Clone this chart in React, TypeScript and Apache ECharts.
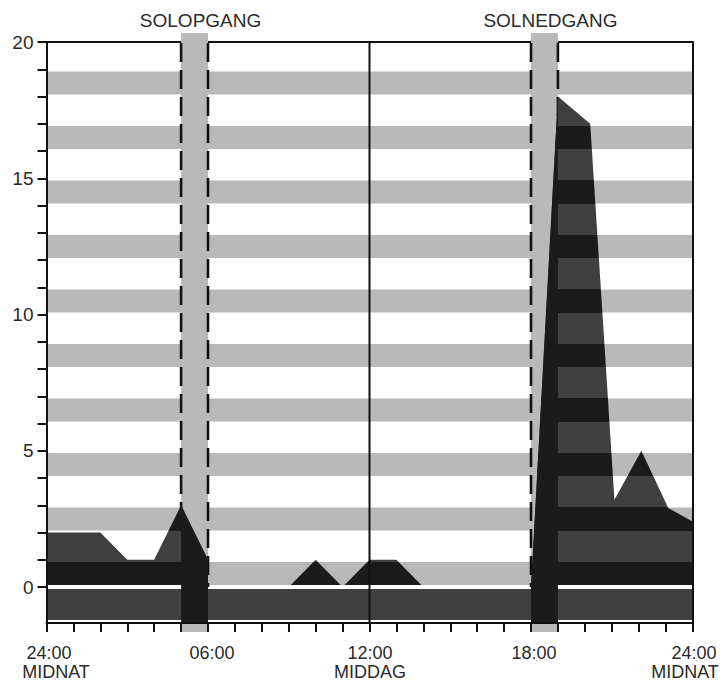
import React, { useEffect, useRef } from 'react';
import * as echarts from 'echarts';

// ---- data ----
const HOURS = [0, 2, 3, 4, 5, 6, 6, 9, 10, 11, 12, 13, 14, 18, 19, 20.2, 21.1, 22.1, 23.1, 24];
const VALUES = [2, 2, 1, 1, 3, 1, 0, 0, 1, 0, 1, 1, 0, 0, 18, 17, 3.2, 5, 2.9, 2.4];
const SUN_WINDOWS: number[][] = [[5, 6], [18, 19]];
const SUN_LABELS = ['SOLOPGANG', 'SOLNEDGANG'];
const NOON = 12;
const X_LABELS: Record<number, string> = {
  0: '24:00\nMIDNAT',
  6: '06:00',
  12: '12:00\nMIDDAG',
  18: '18:00',
  24: '24:00\nMIDNAT',
};
const Y_TICKS = [0, 1, 2, 3, 4, 5, 6, 7, 8, 9, 10, 11, 12, 13, 14, 15, 16, 17, 18, 19, 20];
const Y_LABELS = [0, 5, 10, 15, 20];
const BAND_LEVELS = [0, 2, 4, 6, 8, 10, 12, 14, 16, 18];

const Y_MIN = -1.32;
const Y_MAX = 20;
const X_MIN = 0;
const X_MAX = 24;

// ---- style ----
const GRAY = '#b9b9b9';
const DARK = '#404040';
const BLACK = '#1b1b1b';
const INK = '#111111';
const TEXT = '#2a2a2a';
const FONT = 'Liberation Sans, Arial, Helvetica, sans-serif';
const BAND_LO = 0.07;
const BAND_HI = 0.92;
const LABEL_SIZE = 18;
const LABEL_LH = 19;
// per-line horizontal nudges of the x labels (px, + = right)
const LABEL_SHIFT: Record<number, number[]> = {
  0: [2.5, 9.5],
  6: [4],
  12: [0.5, 0.5],
  18: [3],
  24: [1.5, -7.5],
};

function styleName(s: number) {
  const n = Math.round(Math.abs(s) * 2);
  return (s >= 0 ? 'L' : 'R') + n;
}

export default function App() {
  const ref = useRef<HTMLDivElement>(null);

  useEffect(() => {
    if (!ref.current) return;
    const chart = echarts.init(ref.current, null, { renderer: 'svg' });

    const rich: Record<string, any> = {};
    Object.values(LABEL_SHIFT).forEach((arr) =>
      arr.forEach((s) => {
        const n = Math.round(Math.abs(s) * 2);
        rich[styleName(s)] = {
          fontSize: LABEL_SIZE,
          fontFamily: FONT,
          color: TEXT,
          lineHeight: LABEL_LH,
          padding: s >= 0 ? [0, 0, 0, n] : [0, n, 0, 0],
        };
      })
    );
    if (!rich['L0']) {
      rich['L0'] = { fontSize: LABEL_SIZE, fontFamily: FONT, color: TEXT, lineHeight: LABEL_LH };
    }

    const xFormatter = (v: number) => {
      const txt = X_LABELS[v];
      if (txt === undefined) return '';
      const lines = txt.split('\n');
      const sh = LABEL_SHIFT[v] || [];
      return lines.map((ln, i) => `{${styleName(sh[i] || 0)}|${ln}}`).join('\n');
    };

    const mainData = HOURS.map((h, i) => [h, VALUES[i]]);
    const overlaySeries = SUN_WINDOWS.map((w, wi) => ({
      id: 'overlay' + wi,
      type: 'line',
      data: mainData.filter((p) => p[0] >= w[0] && p[0] <= w[1]),
      symbol: 'none',
      lineStyle: { width: 0, color: BLACK },
      areaStyle: { origin: 'start', color: BLACK, opacity: 1 },
      z: 5,
      silent: true,
    }));

    const plainAxis = (extra: any) => ({
      type: 'value',
      axisTick: { show: false },
      axisLabel: { show: false },
      splitLine: { show: false },
      ...extra,
    });

    const option: any = {
      animation: false,
      backgroundColor: '#ffffff',
      grid: {
        left: 46.5,
        top: 42,
        width: 646,
        height: 581,
        containLabel: false,
        outerBoundsMode: 'none',
      },
      xAxis: [
        {
          type: 'value',
          min: X_MIN,
          max: X_MAX,
          interval: 1,
          position: 'bottom',
          z: 10,
          axisLine: { show: true, onZero: false, lineStyle: { color: INK, width: 2 } },
          axisTick: { show: true, length: 9, lineStyle: { color: INK, width: 2 } },
          axisLabel: {
            show: true,
            margin: 20,
            color: TEXT,
            fontSize: LABEL_SIZE,
            fontFamily: FONT,
            lineHeight: LABEL_LH,
            formatter: xFormatter,
            rich,
          },
          splitLine: { show: false },
        },
        plainAxis({
          min: X_MIN,
          max: X_MAX,
          position: 'top',
          z: 1,
          axisLine: { show: true, onZero: false, lineStyle: { color: INK, width: 2 } },
        }),
      ],
      yAxis: [
        {
          type: 'value',
          min: Y_MIN,
          max: Y_MAX,
          position: 'left',
          z: 10,
          axisLine: { show: true, onZero: false, lineStyle: { color: INK, width: 2 } },
          axisTick: {
            show: true,
            length: 9,
            customValues: Y_TICKS,
            lineStyle: { color: INK, width: 2 },
          },
          axisLabel: {
            show: true,
            customValues: Y_LABELS,
            margin: 13,
            color: TEXT,
            fontSize: 19,
            fontFamily: FONT,
          },
          splitLine: { show: false },
        },
        plainAxis({
          min: Y_MIN,
          max: Y_MAX,
          position: 'right',
          z: 10,
          axisLine: { show: true, onZero: false, lineStyle: { color: INK, width: 2 } },
        }),
      ],
      series: [
        {
          id: 'bands',
          type: 'custom',
          z: 1,
          silent: true,
          data: BAND_LEVELS.map((k) => [k]),
          renderItem: (_p: any, api: any) => {
            const k = api.value(0);
            const a = api.coord([X_MIN, k + BAND_HI]);
            const b = api.coord([X_MAX, k + BAND_LO]);
            return {
              type: 'rect',
              shape: { x: a[0], y: a[1], width: b[0] - a[0], height: b[1] - a[1] },
              style: { fill: GRAY },
            };
          },
        },
        {
          id: 'columns',
          type: 'custom',
          z: 3,
          silent: true,
          data: SUN_WINDOWS,
          renderItem: (p: any, api: any) => {
            const a = api.coord([api.value(0), Y_MAX]);
            const b = api.coord([api.value(1), Y_MIN]);
            return {
              type: 'group',
              children: [
                {
                  type: 'rect',
                  shape: { x: a[0], y: a[1] - 9, width: b[0] - a[0], height: b[1] - a[1] + 18 },
                  style: { fill: GRAY },
                },
                {
                  type: 'text',
                  x: (a[0] + b[0]) / 2 + 6,
                  y: a[1] - 22,
                  style: {
                    text: SUN_LABELS[p.dataIndex],
                    fill: TEXT,
                    fontSize: 19,
                    fontFamily: FONT,
                    align: 'center',
                    verticalAlign: 'middle',
                  },
                },
              ],
            };
          },
        },
        {
          id: 'dashes',
          type: 'custom',
          z: 4,
          silent: true,
          data: SUN_WINDOWS.flat().map((x) => [x]),
          renderItem: (_p: any, api: any) => {
            const t = api.coord([api.value(0), Y_MAX]);
            const b = api.coord([api.value(0), Y_MIN]);
            return {
              type: 'line',
              shape: { x1: t[0], y1: t[1] + 1, x2: b[0], y2: b[1] },
              style: { stroke: INK, lineWidth: 2.6, lineDash: [19, 8] },
            };
          },
        },
        {
          id: 'area',
          type: 'line',
          data: mainData,
          symbol: 'none',
          lineStyle: { width: 0, color: DARK },
          areaStyle: { origin: 'start', color: DARK, opacity: 1 },
          z: 4.5,
          silent: true,
        },
        ...overlaySeries,
        {
          id: 'noon',
          type: 'custom',
          z: 8,
          silent: true,
          data: [[NOON]],
          renderItem: (_p: any, api: any) => {
            const t = api.coord([api.value(0), Y_MAX]);
            const b = api.coord([api.value(0), Y_MIN]);
            return {
              type: 'line',
              shape: { x1: t[0], y1: t[1], x2: b[0], y2: b[1] },
              style: { stroke: INK, lineWidth: 2 },
            };
          },
        },
      ],
    };

    chart.setOption(option);

    // stripe the area fill so it reads black over the grey bands, dark grey elsewhere
    const yBottom = chart.convertToPixel({ yAxisIndex: 0 }, Y_MIN) as number;
    const yTop = chart.convertToPixel({ yAxisIndex: 0 }, Y_MAX) as number;
    const span = Y_MAX - Y_MIN;
    const off = (v: number) => Math.min(1, Math.max(0, (v - Y_MIN) / span));
    const segs: [number, number, string][] = [
      [Y_MIN, -1.22, '#ffffff'],
      [-1.22, -0.07, DARK],
      [-0.07, BAND_LO, '#ffffff'],
    ];
    BAND_LEVELS.forEach((k, i) => {
      segs.push([k + BAND_LO, k + BAND_HI, BLACK]);
      const next = i < BAND_LEVELS.length - 1 ? BAND_LEVELS[i + 1] + BAND_LO : Y_MAX;
      segs.push([k + BAND_HI, next, DARK]);
    });
    const stops: { offset: number; color: string }[] = [];
    segs.forEach(([lo, hi, c]) => {
      stops.push({ offset: off(lo), color: c });
      stops.push({ offset: off(hi), color: c });
    });
    const grad = new echarts.graphic.LinearGradient(0, yBottom, 0, yTop, stops, true);
    chart.setOption({ series: [{ id: 'area', areaStyle: { color: grad } }] });

    return () => chart.dispose();
  }, []);

  return (
    <div
      ref={ref}
      style={{ position: 'absolute', left: 0, top: 0, width: 724, height: 683 }}
    />
  );
}
